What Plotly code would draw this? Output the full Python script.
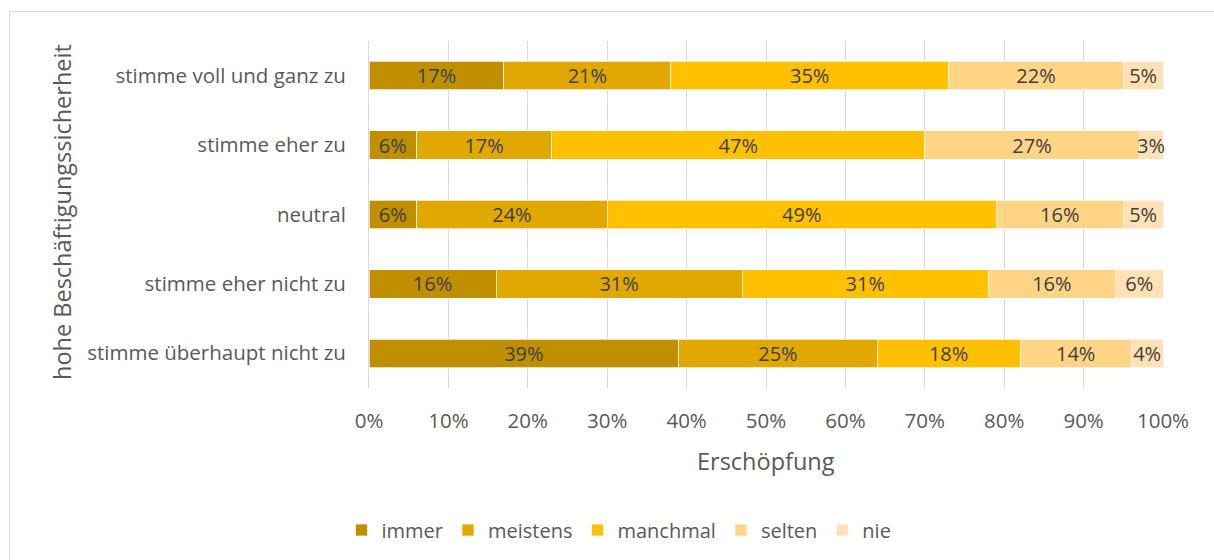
import plotly.graph_objects as go

# Survey rows (top to bottom) and response shares in percent
categories = [
    "stimme voll und ganz zu",
    "stimme eher zu",
    "neutral",
    "stimme eher nicht zu",
    "stimme überhaupt nicht zu",
]
series_names = ["immer", "meistens", "manchmal", "selten", "nie"]
immer = [17, 6, 6, 16, 39]
meistens = [21, 17, 24, 31, 25]
manchmal = [35, 47, 49, 31, 18]
selten = [22, 27, 16, 16, 14]
nie = [5, 3, 5, 6, 4]
colors = ["#BF8F00", "#E0A800", "#FFC000", "#FFD485", "#FFE1B5"]
tick_vals = [0, 10, 20, 30, 40, 50, 60, 70, 80, 90, 100]
tick_text = [f"{v}%" for v in tick_vals]

FONT = "'Open Sans', sans-serif"
TXT = "#595959"

W, H = 1214, 560
ml, mr, mt, mb = 369, 51, 41, 172
pw, ph = W - ml - mr, H - mt - mb

fig = go.Figure()
for name, vals, col in zip(series_names, [immer, meistens, manchmal, selten, nie], colors):
    fig.add_trace(go.Bar(
        name=name,
        y=categories,
        x=vals,
        orientation="h",
        marker=dict(color=col, line=dict(color="rgba(255,255,255,0.7)", width=1)),
        text=[f"{v}%" for v in vals],
        textposition="inside",
        insidetextanchor="middle",
        textangle=0,
        textfont=dict(family=FONT, size=20, color="#404040"),
        constraintext="none",
        cliponaxis=False,
    ))

def px_x(p):
    return (p - ml) / pw

def px_y(p):
    return (H - mb - p) / ph

fig.update_layout(
    width=W, height=H,
    margin=dict(l=ml, r=mr, t=mt, b=mb, autoexpand=False),
    barmode="stack",
    bargap=0.59,
    plot_bgcolor="white",
    paper_bgcolor="white",
    font=dict(family=FONT, size=20, color=TXT),
    uniformtext=dict(minsize=20, mode="show"),
    xaxis=dict(
        range=[0, 100],
        tickvals=tick_vals,
        ticktext=tick_text,
        showgrid=True,
        gridcolor="#D9D9D9",
        gridwidth=1,
        zeroline=False,
        showline=False,
        ticks="",
        ticklabelstandoff=18,
        tickfont=dict(family=FONT, size=20.5, color=TXT),
        fixedrange=True,
    ),
    yaxis=dict(
        categoryorder="array",
        categoryarray=categories[::-1],
        showgrid=False,
        showline=True,
        linecolor="#D9D9D9",
        linewidth=1,
        ticks="",
        ticklabelstandoff=18,
        tickfont=dict(family=FONT, size=20.5, color=TXT),
        fixedrange=True,
    ),
    legend=dict(
        orientation="h",
        x=px_x(619), xanchor="center",
        y=px_y(530), yanchor="middle",
        font=dict(family=FONT, size=20, color=TXT),
        itemwidth=30,
        traceorder="normal",
        bgcolor="rgba(0,0,0,0)",
    ),
    annotations=[
        dict(text="Erschöpfung", xref="paper", yref="paper",
             x=px_x(766), y=px_y(461), xanchor="center", yanchor="middle",
             showarrow=False, font=dict(family=FONT, size=23.5, color=TXT)),
        dict(text="hohe Beschäftigungssicherheit", xref="paper", yref="paper",
             x=px_x(62), y=px_y(212), xanchor="center", yanchor="middle",
             textangle=-90, showarrow=False,
             font=dict(family=FONT, size=23.5, color=TXT)),
    ],
    shapes=[
        dict(type="rect", xref="paper", yref="paper",
             x0=px_x(9.5), x1=px_x(1222), y0=px_y(11.5), y1=px_y(570),
             line=dict(color="#D9D9D9", width=1), fillcolor="rgba(0,0,0,0)",
             layer="below"),
    ],
)

fig.write_html("out.html")
